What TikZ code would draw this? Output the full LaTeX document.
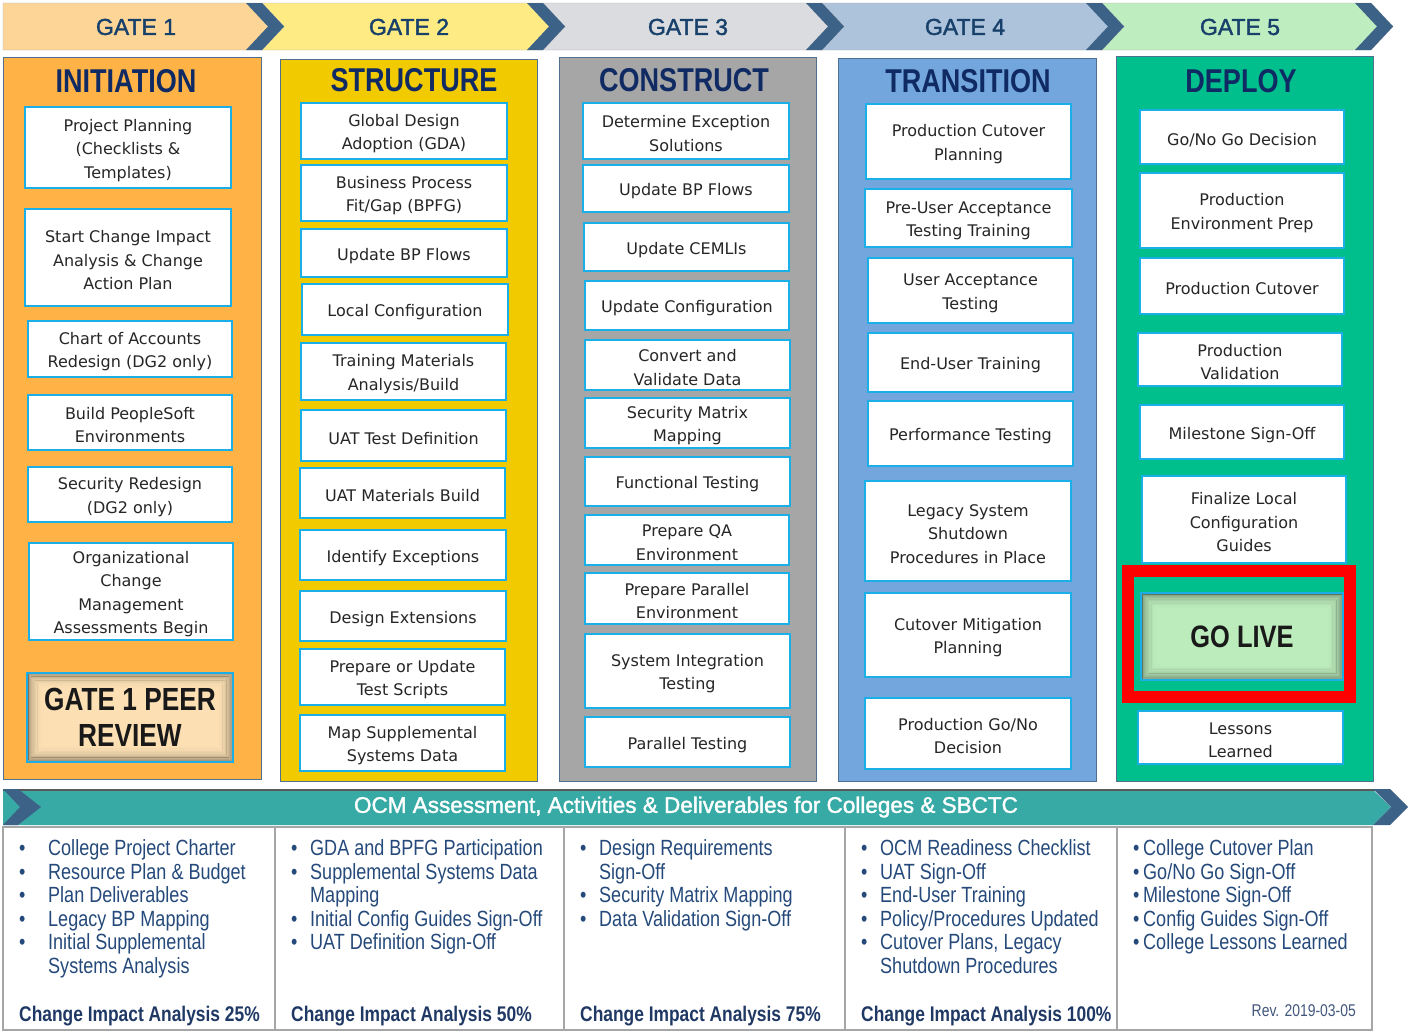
\documentclass[tikz,border=0pt]{standalone}
\usepackage{fontspec}
\newfontfamily\boxf{DejaVu Sans}
\newfontfamily\narrowf[FakeStretch=0.82]{Liberation Sans}
\newfontfamily\medf[FakeBold=1.6]{Liberation Sans}
\definecolor{g1fill}{HTML}{FDD597}
\definecolor{g2fill}{HTML}{FFEB84}
\definecolor{g3fill}{HTML}{DADCDF}
\definecolor{g4fill}{HTML}{ADC2DB}
\definecolor{g5fill}{HTML}{BEEDC0}
\definecolor{chev}{HTML}{3D6287}
\definecolor{gatetxt}{HTML}{17406A}
\definecolor{headtxt}{HTML}{102A63}
\definecolor{c1fill}{HTML}{FFB347}
\definecolor{c2fill}{HTML}{F2CA00}
\definecolor{c3fill}{HTML}{A6A6A6}
\definecolor{c4fill}{HTML}{72A6DC}
\definecolor{c5fill}{HTML}{00BF8C}
\definecolor{colborder}{HTML}{50708F}
\definecolor{cyanb}{HTML}{1AAFE6}
\definecolor{boxtxt}{HTML}{262626}
\definecolor{peerfill}{HTML}{FCE0B4}
\definecolor{livefill}{HTML}{BCEBBC}
\definecolor{teal}{HTML}{38AAA6}
\definecolor{btxt}{HTML}{24497A}
\definecolor{bbold}{HTML}{1F3864}
\newcommand\ibox[6]{\node[itembox,minimum width={(#4)-(#2)},minimum height={(#5)-(#3)}] (#1) at ({((#2)+(#4))/2},{((#3)+(#5))/2}) {\rule{0pt}{17.5pt}#6};}
\newcommand\bitem[5]{\node[btext] (#1) at (#2,#3) {\makebox[#4pt][l]{\textbullet}#5};}
\newcommand\bcont[5]{\node[btext] (#1) at (#2,#3) {\makebox[#4pt][l]{}#5};}
\newcommand\chevshape[1]{(#1,3) -- ({#1+16},3) -- ({#1+38},26.5) -- ({#1+16},50) -- (#1,50) -- ({#1+22},26.5) -- cycle}
\begin{document}
\begin{tikzpicture}[x=1pt,y=-1pt,
  gatelbl/.style={font=\medf\fontsize{23}{28}\selectfont,text=gatetxt,inner sep=0},
  colbox/.style={draw=colborder,line width=1pt},
  head/.style={font=\narrowf\bfseries\fontsize{33}{36}\selectfont,text=headtxt,inner sep=0},
  itembox/.style={draw=cyanb,line width=2.5pt,fill=white,align=center,inner sep=0,
     font=\boxf\fontsize{16}{23.5}\selectfont,text=boxtxt},
  special/.style={draw=cyanb,line width=2pt,align=center,inner sep=0,text=black!90,
     path picture={\foreach \i in {0,...,11}
       \draw[black,opacity={0.32*(1-\i/12)*(1-\i/12)},line width=1.5pt]
         ([xshift={\i*1.3pt+0.75pt},yshift={-\i*1.3pt-0.75pt}]path picture bounding box.north west) rectangle
         ([xshift={-\i*1.3pt-0.75pt},yshift={\i*1.3pt+0.75pt}]path picture bounding box.south east);}},
  btext/.style={anchor=base west,inner sep=0,font=\narrowf\fontsize{22}{24}\selectfont,text=btxt},
  bbtext/.style={anchor=base west,inner sep=0,font=\narrowf\bfseries\fontsize{21.2}{24}\selectfont,text=bbold}]
\useasboundingbox (0,0) rectangle (1409,1031);
% ---------- gate header ----------
\fill[g1fill,draw=gray!60] (3,3) -- (262,3) -- (284,26.5) -- (262,50) -- (3,50) -- cycle;
\fill[g2fill,draw=gray!60] (262,3) -- (543,3) -- (565,26.5) -- (543,50) -- (262,50) -- (284,26.5) -- cycle;
\fill[g3fill,draw=gray!60] (543,3) -- (822,3) -- (844,26.5) -- (822,50) -- (543,50) -- (565,26.5) -- cycle;
\fill[g4fill,draw=gray!60] (822,3) -- (1102,3) -- (1124,26.5) -- (1102,50) -- (822,50) -- (844,26.5) -- cycle;
\fill[g5fill,draw=gray!60] (1102,3) -- (1371,3) -- (1393,26.5) -- (1371,50) -- (1102,50) -- (1124,26.5) -- cycle;
\fill[chev] \chevshape{246};
\fill[chev] \chevshape{527};
\fill[chev] \chevshape{806};
\fill[chev] \chevshape{1086};
\fill[chev] \chevshape{1355};
\node[gatelbl] (gate1) at (136,27) {GATE 1};
\node[gatelbl] (gate2) at (409,27) {GATE 2};
\node[gatelbl] (gate3) at (688,27) {GATE 3};
\node[gatelbl] (gate4) at (965,27) {GATE 4};
\node[gatelbl] (gate5) at (1240,27) {GATE 5};
% ---------- columns ----------
\filldraw[colbox,fill=c1fill] (3,57) rectangle (261,779);
\filldraw[colbox,fill=c2fill] (280,59) rectangle (537,781);
\filldraw[colbox,fill=c3fill] (559,57) rectangle (816,781);
\filldraw[colbox,fill=c4fill] (838,58) rectangle (1096,781);
\filldraw[colbox,fill=c5fill] (1116,56) rectangle (1373,781);
\node[head] (h1) at (126,81) {INITIATION};
\node[head] (h2) at (414,80) {STRUCTURE};
\node[head] (h3) at (684,80) {CONSTRUCT};
\node[head] (h4) at (968,81) {TRANSITION};
\node[head] (h5) at (1241,81) {DEPLOY};
% column 1
\ibox{a1}{25}{107}{231}{188}{Project Planning\\(Checklists \&\\Templates)}
\ibox{a2}{25}{209}{231}{306}{Start Change Impact\\Analysis \& Change\\Action Plan}
\ibox{a3}{28}{321}{232}{377}{Chart of Accounts\\Redesign (DG2 only)}
\ibox{a4}{28}{395}{232}{450}{Build PeopleSoft\\Environments}
\ibox{a5}{28}{467}{232}{522}{Security Redesign\\(DG2 only)}
\ibox{a6}{29}{543}{233}{640}{Organizational\\Change\\Management\\Assessments Begin}
\node[special,fill=peerfill,minimum width=206,minimum height=89,
      font=\narrowf\bfseries\fontsize{32}{36}\selectfont] (peer) at (130,717) {GATE 1 PEER\\REVIEW};
% column 2
\ibox{b1}{301}{103}{507}{159}{Global Design\\Adoption (GDA)}
\ibox{b2}{301}{165}{507}{221}{Business Process\\Fit/Gap (BPFG)}
\ibox{b3}{301}{229}{507}{277}{Update BP Flows}
\ibox{b4}{302}{284}{508}{335}{Local Configuration}
\ibox{b5}{301}{343}{506}{400}{Training Materials\\Analysis/Build}
\ibox{b6}{301}{410}{506}{461}{UAT Test Definition}
\ibox{b7}{300}{468}{505}{518}{UAT Materials Build}
\ibox{b8}{300}{530}{506}{580}{Identify Exceptions}
\ibox{b9}{300}{591}{506}{641}{Design Extensions}
\ibox{b10}{300}{649}{505}{705}{Prepare or Update\\Test Scripts}
\ibox{b11}{300}{715}{505}{771}{Map Supplemental\\Systems Data}
% column 3
\ibox{c1}{583}{103}{789}{159}{Determine Exception\\Solutions}
\ibox{c2}{583}{165}{789}{212}{Update BP Flows}
\ibox{c3}{584}{223}{789}{271}{Update CEMLIs}
\ibox{c4}{585}{281}{789}{330}{Update Configuration}
\ibox{c5}{585}{340}{790}{390}{Convert and\\Validate Data}
\ibox{c6}{585}{398}{790}{448}{Security Matrix\\Mapping}
\ibox{c7}{585}{457}{790}{506}{Functional Testing}
\ibox{c8}{585}{515}{789}{565}{Prepare QA\\Environment}
\ibox{c9}{585}{573}{789}{624}{Prepare Parallel\\Environment}
\ibox{c10}{585}{634}{790}{708}{System Integration\\Testing}
\ibox{c11}{585}{717}{790}{767}{Parallel Testing}
% column 4
\ibox{d1}{866}{104}{1071}{179}{Production Cutover\\Planning}
\ibox{d2}{865}{189}{1072}{247}{Pre-User Acceptance\\Testing Training}
\ibox{d3}{868}{258}{1073}{323}{User Acceptance\\Testing}
\ibox{d4}{868}{333}{1073}{392}{End-User Training}
\ibox{d5}{868}{401}{1073}{466}{Performance Testing}
\ibox{d6}{865}{481}{1071}{581}{Legacy System\\Shutdown\\Procedures in Place}
\ibox{d7}{865}{593}{1071}{677}{Cutover Mitigation\\Planning}
\ibox{d8}{865}{698}{1071}{769}{Production Go/No\\Decision}
% column 5
\ibox{e1}{1140}{110}{1344}{164}{Go/No Go Decision}
\ibox{e2}{1140}{173}{1344}{248}{Production\\Environment Prep}
\ibox{e3}{1140}{258}{1344}{314}{Production Cutover}
\ibox{e4}{1138}{333}{1342}{386}{Production\\Validation}
\ibox{e5}{1140}{405}{1344}{459}{Milestone Sign-Off}
\ibox{e6}{1142}{476}{1346}{563}{Finalize Local\\Configuration\\Guides}
\node[draw=red,line width=12pt,minimum width=222,minimum height=126,inner sep=0] (frame) at (1239,634) {};
\node[special,fill=livefill,minimum width=202,minimum height=87,
      font=\narrowf\bfseries\fontsize{31}{36}\selectfont] (golive) at (1242,636.5) {GO LIVE};
\ibox{e7}{1138}{711}{1343}{764}{Lessons\\Learned}
% ---------- OCM banner ----------
\fill[teal] (3,790) -- (1373,790) -- (1391,807) -- (1373,825) -- (3,825) -- cycle;
\draw[black!65,line width=2pt] (3,790) -- (1380,790);
\fill[chev] (3,789) -- (18,789) -- (41,807) -- (18,825) -- (3,825) -- (20,807) -- cycle;
\fill[chev] (1373,789) -- (1390,789) -- (1408,807) -- (1390,825) -- (1373,825) -- (1391,807) -- cycle;
\node[inner sep=0,text=white,font=\medf\fontsize{22.5}{26}\selectfont] (ocm) at (686,807)
  {OCM Assessment, Activities \& Deliverables for Colleges \& SBCTC};
% ---------- bottom panel ----------
\draw[black!35,line width=1.5pt] (3,827) rectangle (1372,1030);
\draw[black!35,line width=1.5pt] (275,827) -- (275,1030);
\draw[black!35,line width=1.5pt] (564,827) -- (564,1030);
\draw[black!35,line width=1.5pt] (845,827) -- (845,1030);
\draw[black!35,line width=1.5pt] (1117,827) -- (1117,1030);
% col 1
\bitem{p1}{19}{855}{29}{College Project Charter}
\bitem{p2}{19}{879}{29}{Resource Plan \& Budget}
\bitem{p3}{19}{902}{29}{Plan Deliverables}
\bitem{p4}{19}{926}{29}{Legacy BP Mapping}
\bitem{p5}{19}{949}{29}{Initial Supplemental}
\bcont{p6}{19}{973}{29}{Systems Analysis}
% col 2
\bitem{q1}{291}{855}{19}{GDA and BPFG Participation}
\bitem{q2}{291}{879}{19}{Supplemental Systems Data}
\bcont{q3}{291}{902}{19}{Mapping}
\bitem{q4}{291}{926}{19}{Initial Config Guides Sign-Off}
\bitem{q5}{291}{949}{19}{UAT Definition Sign-Off}
% col 3
\bitem{r1}{580}{855}{19}{Design Requirements}
\bcont{r2}{580}{879}{19}{Sign-Off}
\bitem{r3}{580}{902}{19}{Security Matrix Mapping}
\bitem{r4}{580}{926}{19}{Data Validation Sign-Off}
% col 4
\bitem{s1}{861}{855}{19}{OCM Readiness Checklist}
\bitem{s2}{861}{879}{19}{UAT Sign-Off}
\bitem{s3}{861}{902}{19}{End-User Training}
\bitem{s4}{861}{926}{19}{Policy/Procedures Updated}
\bitem{s5}{861}{949}{19}{Cutover Plans, Legacy}
\bcont{s6}{861}{973}{19}{Shutdown Procedures}
% col 5
\bitem{t1}{1133}{855}{10}{College Cutover Plan}
\bitem{t2}{1133}{879}{10}{Go/No Go Sign-Off}
\bitem{t3}{1133}{902}{10}{Milestone Sign-Off}
\bitem{t4}{1133}{926}{10}{Config Guides Sign-Off}
\bitem{t5}{1133}{949}{10}{College Lessons Learned}
% impact lines
\node[bbtext] (ci1) at (19,1021) {Change Impact Analysis 25\%};
\node[bbtext] (ci2) at (291,1021) {Change Impact Analysis 50\%};
\node[bbtext] (ci3) at (580,1021) {Change Impact Analysis 75\%};
\node[bbtext] (ci4) at (861,1021) {Change Impact Analysis 100\%};
\node[anchor=base east,inner sep=0,font=\narrowf\fontsize{17}{20}\selectfont,text=bbold!85] (rev) at (1356,1016) {Rev. 2019-03-05};
\end{tikzpicture}
\end{document}
